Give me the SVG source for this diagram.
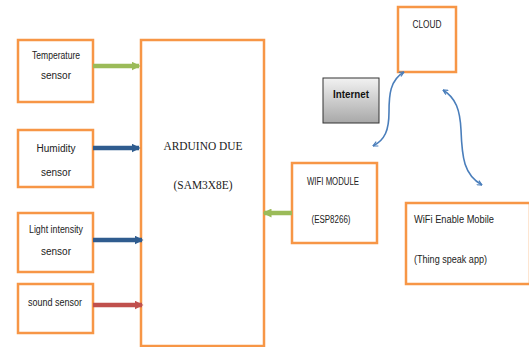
<svg xmlns="http://www.w3.org/2000/svg" width="529" height="347" viewBox="0 0 529 347">
<style>
.box{fill:#fff;stroke:#F79646;stroke-width:2.5}
.t{font-family:"Liberation Sans Narrow","Liberation Sans",Arial,sans-serif;font-size:10px;fill:#222;text-anchor:middle}
.s{font-family:"Liberation Serif","Times New Roman",serif;font-size:12.5px;fill:#222;text-anchor:middle}
.conn{fill:none;stroke-width:4.5}
.curve{fill:none;stroke:#4A7EBB;stroke-width:1.6}
</style>
<defs>
<marker id="hg" viewBox="0 0 6 6" refX="5" refY="3" markerWidth="2" markerHeight="2" orient="auto"><path d="M0,0 L6,3 L0,6 z" fill="#9BBB59"/></marker>
<marker id="hb" viewBox="0 0 6 6" refX="5" refY="3" markerWidth="2" markerHeight="2" orient="auto"><path d="M0,0 L6,3 L0,6 z" fill="#2F5C8F"/></marker>
<marker id="hr" viewBox="0 0 6 6" refX="5" refY="3" markerWidth="2" markerHeight="2" orient="auto"><path d="M0,0 L6,3 L0,6 z" fill="#C0504D"/></marker>
<marker id="ch" viewBox="0 0 10 10" refX="9" refY="5" markerWidth="6" markerHeight="6" orient="auto-start-reverse" markerUnits="userSpaceOnUse"><path d="M1,1 L9,5 L1,9" fill="none" stroke="#4A7EBB" stroke-width="2"/></marker>
<linearGradient id="gg" x1="0" y1="0" x2="0" y2="1"><stop offset="0" stop-color="#f2f2f2"/><stop offset="1" stop-color="#a8a8a8"/></linearGradient>
</defs>

<g id="temp"><rect class="box" x="18" y="40" width="75" height="62"/><text class="t" x="56" y="59" textLength="48" lengthAdjust="spacingAndGlyphs">Temperature</text><text class="t" x="56" y="79">sensor</text></g>
<g id="humidity"><rect class="box" x="18" y="130" width="75" height="57"/><text class="t" x="56" y="152">Humidity</text><text class="t" x="56" y="176">sensor</text></g>
<g id="light"><rect class="box" x="18" y="213" width="75" height="59"/><text class="t" x="56" y="233" textLength="54" lengthAdjust="spacingAndGlyphs">Light intensity</text><text class="t" x="56" y="255">sensor</text></g>
<g id="sound"><rect class="box" x="18" y="284" width="75" height="49"/><text class="t" x="55" y="306" textLength="54" lengthAdjust="spacingAndGlyphs">sound sensor</text></g>
<g id="arduino"><rect class="box" x="141" y="40" width="123" height="306"/><text class="s" x="203" y="150" textLength="79" lengthAdjust="spacingAndGlyphs">ARDUINO DUE</text><text class="s" x="203" y="189" textLength="59" lengthAdjust="spacingAndGlyphs">(SAM3X8E)</text></g>
<g id="wifi"><rect class="box" x="292" y="163" width="85" height="80"/><text class="t" x="333" y="185" font-size="9" textLength="52" lengthAdjust="spacingAndGlyphs">WIFI MODULE</text><text class="t" x="331" y="223" font-size="9" textLength="39" lengthAdjust="spacingAndGlyphs">(ESP8266)</text></g>
<g id="cloud"><rect class="box" x="398" y="7" width="58" height="65"/><text class="t" x="427" y="28" font-size="9.5" textLength="29" lengthAdjust="spacingAndGlyphs">CLOUD</text></g>
<g id="internet"><rect x="323" y="78" width="56" height="45" fill="url(#gg)" stroke="#333" stroke-width="1"/><text x="351" y="98" font-family="'Liberation Sans Narrow','Liberation Sans',Arial,sans-serif" font-size="10" font-weight="bold" fill="#111" text-anchor="middle" textLength="36" lengthAdjust="spacingAndGlyphs">Internet</text></g>
<g id="mobile"><rect class="box" x="406" y="203" width="124" height="81"/><text class="t" x="414" y="223" font-size="9.5" text-anchor="start" style="text-anchor:start" textLength="80" lengthAdjust="spacingAndGlyphs">WiFi Enable Mobile</text><text class="t" x="414" y="263" font-size="9.5" style="text-anchor:start" textLength="73" lengthAdjust="spacingAndGlyphs">(Thing speak app)</text></g>

<g id="connectors">
<line class="conn" x1="93" y1="66" x2="139" y2="66" stroke="#9BBB59" marker-end="url(#hg)"/>
<line class="conn" x1="93" y1="148" x2="139" y2="148" stroke="#2F5C8F" marker-end="url(#hb)"/>
<line class="conn" x1="93" y1="240" x2="142" y2="240" stroke="#2F5C8F" marker-end="url(#hb)"/>
<line class="conn" x1="93" y1="305" x2="142" y2="305" stroke="#C0504D" marker-end="url(#hr)"/>
<line class="conn" x1="292" y1="213" x2="264" y2="213" stroke="#9BBB59" marker-end="url(#hg)"/>
<path class="curve" d="M404,72 C390,80 389,95 389,112 C389,130 385,140 373,146" marker-start="url(#ch)" marker-end="url(#ch)"/>
<path class="curve" d="M443,90 C456,98 460,110 461,130 C462,158 464,175 482,185" marker-start="url(#ch)" marker-end="url(#ch)"/>
</g>
</svg>
